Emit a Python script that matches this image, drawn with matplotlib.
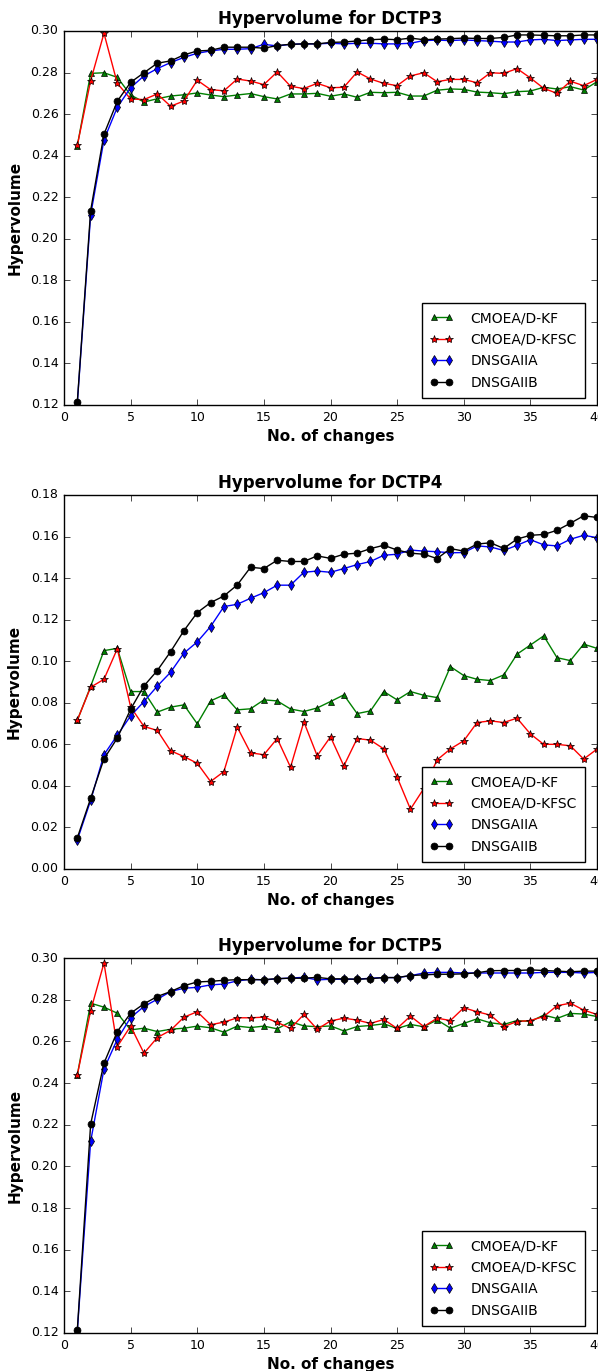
import numpy as np
import matplotlib
matplotlib.use("Agg")
import matplotlib.pyplot as plt

changes = np.arange(1, 41)
names = ["CMOEA/D-KF", "CMOEA/D-KFSC", "DNSGAIIA", "DNSGAIIB"]

# DCTP3
kf3 = [0.2448,0.2796,0.2799,0.2777,0.2692,0.2658,0.2674,0.2687,0.2693,0.2702,
       0.2692,0.2684,0.2692,0.2699,0.2684,0.2673,0.2697,0.2697,0.2700,0.2686,
       0.2697,0.2681,0.2705,0.2703,0.2705,0.2687,0.2687,0.2715,0.2721,0.2719,
       0.2706,0.2703,0.2698,0.2708,0.2711,0.2729,0.2721,0.2732,0.2716,0.2756]
kfsc3 = [0.2450,0.2761,0.2989,0.2748,0.2673,0.2670,0.2697,0.2638,0.2663,0.2763,
         0.2718,0.2712,0.2769,0.2759,0.2742,0.2803,0.2734,0.2723,0.2748,0.2727,
         0.2729,0.2803,0.2769,0.2748,0.2737,0.2784,0.2799,0.2756,0.2767,0.2767,
         0.2751,0.2799,0.2796,0.2819,0.2774,0.2724,0.2700,0.2758,0.2737,0.2767]
nsa3 = [0.1210,0.2115,0.2476,0.2633,0.2727,0.2784,0.2819,0.2848,0.2873,0.2893,
        0.2904,0.2912,0.2912,0.2915,0.2936,0.2928,0.2936,0.2938,0.2938,0.2941,
        0.2938,0.2941,0.2941,0.2938,0.2938,0.2941,0.2954,0.2956,0.2954,0.2957,
        0.2954,0.2951,0.2947,0.2947,0.2957,0.2960,0.2954,0.2957,0.2960,0.2960]
nsb3 = [0.1215,0.2136,0.2503,0.2662,0.2753,0.2799,0.2845,0.2856,0.2885,0.2904,
        0.2907,0.2922,0.2922,0.2922,0.2917,0.2930,0.2936,0.2938,0.2938,0.2945,
        0.2947,0.2952,0.2958,0.2961,0.2958,0.2966,0.2958,0.2961,0.2963,0.2966,
        0.2964,0.2964,0.2969,0.2981,0.2981,0.2979,0.2977,0.2977,0.2981,0.2981]

# DCTP4
kf4 = [0.0716,0.0879,0.1051,0.1062,0.0854,0.0854,0.0755,0.0779,0.0790,0.0699,
       0.0809,0.0838,0.0766,0.0771,0.0814,0.0809,0.0770,0.0758,0.0775,0.0806,
       0.0838,0.0748,0.0761,0.0854,0.0814,0.0854,0.0836,0.0825,0.0974,0.0931,
       0.0913,0.0907,0.0934,0.1034,0.1078,0.1122,0.1017,0.1003,0.1082,0.1062]
kfsc4 = [0.0716,0.0875,0.0913,0.1060,0.0780,0.0686,0.0667,0.0569,0.0541,0.0509,
         0.0421,0.0469,0.0683,0.0559,0.0550,0.0628,0.0490,0.0708,0.0545,0.0636,
         0.0496,0.0628,0.0620,0.0578,0.0442,0.0288,0.0387,0.0525,0.0578,0.0617,
         0.0705,0.0713,0.0705,0.0726,0.0650,0.0600,0.0600,0.0593,0.0529,0.0577]
nsa4 = [0.0140,0.0330,0.0550,0.0644,0.0737,0.0806,0.0880,0.0947,0.1039,0.1093,
        0.1167,0.1263,0.1274,0.1303,0.1330,0.1366,0.1366,0.1428,0.1434,0.1428,
        0.1446,0.1465,0.1480,0.1510,0.1515,0.1535,0.1530,0.1527,0.1522,0.1523,
        0.1555,0.1550,0.1533,0.1558,0.1585,0.1560,0.1555,0.1587,0.1606,0.1595]
nsb4 = [0.0150,0.0340,0.0530,0.0630,0.0769,0.0881,0.0955,0.1046,0.1147,0.1234,
        0.1282,0.1314,0.1367,0.1452,0.1446,0.1486,0.1480,0.1480,0.1507,0.1495,
        0.1515,0.1520,0.1542,0.1558,0.1535,0.1520,0.1515,0.1494,0.1542,0.1530,
        0.1564,0.1570,0.1543,0.1588,0.1606,0.1610,0.1630,0.1664,0.1700,0.1692]

# DCTP5
kf5 = [0.2439,0.2783,0.2764,0.2735,0.2655,0.2663,0.2647,0.2658,0.2663,0.2673,
       0.2665,0.2644,0.2673,0.2666,0.2673,0.2660,0.2694,0.2674,0.2670,0.2674,
       0.2650,0.2671,0.2676,0.2684,0.2662,0.2681,0.2670,0.2703,0.2663,0.2686,
       0.2708,0.2689,0.2681,0.2700,0.2695,0.2726,0.2710,0.2734,0.2731,0.2719]
kfsc5 = [0.2439,0.2747,0.2976,0.2575,0.2673,0.2543,0.2618,0.2653,0.2716,0.2742,
         0.2680,0.2692,0.2713,0.2713,0.2716,0.2691,0.2662,0.2729,0.2658,0.2698,
         0.2711,0.2702,0.2686,0.2705,0.2662,0.2721,0.2671,0.2711,0.2700,0.2761,
         0.2742,0.2726,0.2671,0.2695,0.2700,0.2719,0.2771,0.2783,0.2750,0.2729]
nsa5 = [0.1210,0.2120,0.2467,0.2610,0.2714,0.2767,0.2802,0.2839,0.2855,0.2859,
        0.2871,0.2875,0.2890,0.2898,0.2895,0.2900,0.2904,0.2907,0.2895,0.2898,
        0.2898,0.2898,0.2903,0.2906,0.2906,0.2915,0.2928,0.2931,0.2931,0.2928,
        0.2928,0.2928,0.2928,0.2928,0.2928,0.2931,0.2931,0.2931,0.2928,0.2931]
nsb5 = [0.1215,0.2203,0.2495,0.2647,0.2735,0.2780,0.2815,0.2839,0.2867,0.2885,
        0.2888,0.2893,0.2896,0.2896,0.2896,0.2901,0.2903,0.2903,0.2907,0.2900,
        0.2900,0.2898,0.2901,0.2906,0.2906,0.2916,0.2919,0.2922,0.2922,0.2924,
        0.2929,0.2939,0.2940,0.2940,0.2943,0.2940,0.2937,0.2934,0.2937,0.2937]

styles = [("g", "^"), ("r", "*"), ("b", "d"), ("k", "o")]

plt.style.use("classic")
plt.rcParams["font.family"] = "DejaVu Sans"

fig = plt.figure(figsize=(5.98, 13.71), dpi=100, facecolor="white")

W = 598.0
H = 1371.0

def panel(top, bottom, title, series, ylim):
    ax = fig.add_axes([64 / W, 1 - bottom / H, 533 / W, (bottom - top) / H])
    for (c, m), vals, name in zip(styles, series, names):
        ax.plot(changes, vals, color=c, marker=m, markersize=5 if m != "*" else 6,
                markeredgecolor="k", markeredgewidth=0.5, linewidth=1.0, label=name)
    ax.set_xlim(0, 40)
    ax.set_ylim(*ylim)
    ax.set_xticks(np.arange(0, 41, 5))
    ax.set_yticks(np.arange(ylim[0], ylim[1] + 0.001, 0.02))
    ax.yaxis.set_major_formatter(matplotlib.ticker.FormatStrFormatter("%.2f"))
    ax.tick_params(labelsize=9, pad=4)
    ax.set_title(title, fontsize=12, fontweight="bold")
    ax.set_xlabel("No. of changes", fontsize=11, fontweight="bold", labelpad=4)
    ax.set_ylabel("Hypervolume", fontsize=11, fontweight="bold", labelpad=6)
    ax.legend(loc="lower right", bbox_to_anchor=(0.9775, 0.018), borderaxespad=0,
              numpoints=2, fontsize=10, fancybox=False, handlelength=1.7,
              handletextpad=1.2, borderpad=0.6, labelspacing=0.55)
    return ax

panel(31, 405, "Hypervolume for DCTP3", [kf3, kfsc3, nsa3, nsb3], (0.12, 0.30))
panel(495, 869, "Hypervolume for DCTP4", [kf4, kfsc4, nsa4, nsb4], (0.0, 0.18))
panel(958, 1333, "Hypervolume for DCTP5", [kf5, kfsc5, nsa5, nsb5], (0.12, 0.30))

fig.savefig("out.png", dpi=100, facecolor="white")
